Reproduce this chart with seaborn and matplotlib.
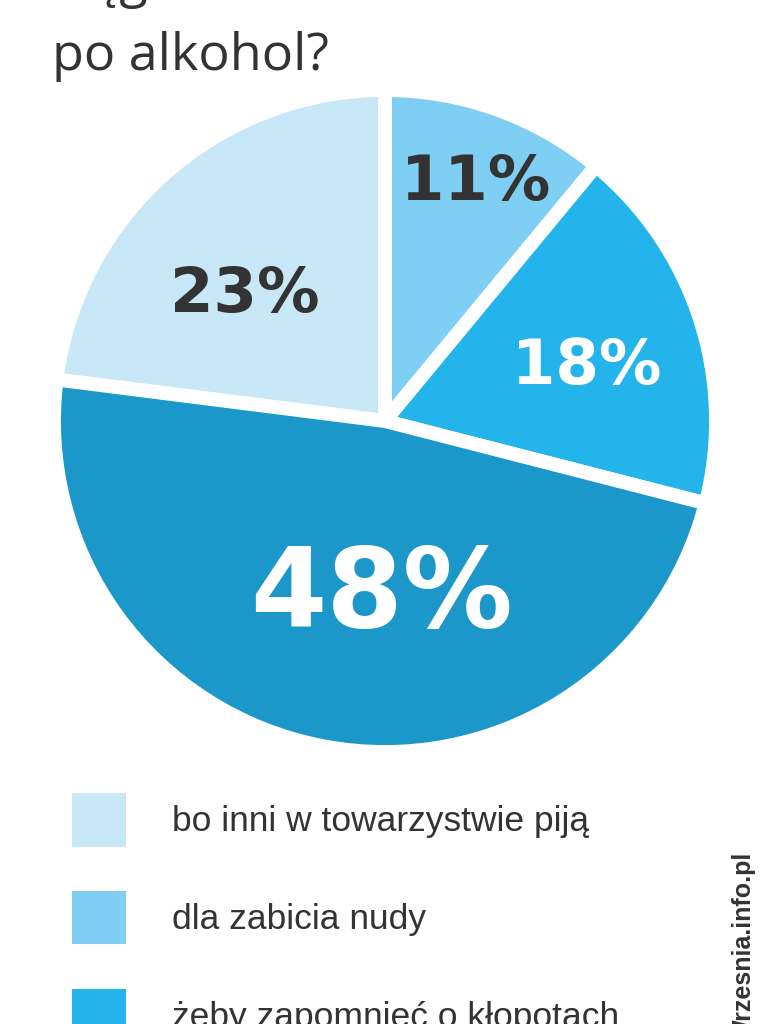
import matplotlib
matplotlib.use("Agg")
import matplotlib.pyplot as plt
import seaborn as sns
import numpy as np
from matplotlib.patches import Patch

# data (legend order)
categories = [
    "bo inni w towarzystwie piją",
    "dla zabicia nudy",
    "żeby zapomnieć o kłopotach",
    "z ciekawości",
]
values = [23, 11, 18, 48]
pct_labels = ["23%", "11%", "18%", "48%"]
colors = ["#c8e8f8", "#7ecff3", "#22b4ea", "#1b97c9"]
label_colors = ["#333333", "#333333", "white", "white"]

sns.set_theme(style="white")
plt.rcParams["font.family"] = ["Open Sans", "DejaVu Sans"]
palette = sns.color_palette(colors)

W, H = 768, 1024
fig = plt.figure(figsize=(W / 100, H / 100), dpi=100)
fig.patch.set_facecolor("white")
ax = fig.add_axes([0, 0, 1, 1])

# pie, clockwise, 11% starts at 12 o'clock
start = 90 + values[0] / sum(values) * 360
wedges, _ = ax.pie(
    values,
    colors=palette,
    startangle=start,
    counterclock=False,
    center=(385, H - 421),
    radius=331,
    explode=[0, 0, 0, 0.03],
    wedgeprops=dict(edgecolor="white", linewidth=10),
    frame=True,
)
ax.set_xlim(0, W)
ax.set_ylim(0, H)
ax.set_aspect("equal")
ax.axis("off")

# percentage labels
label_dist = [0.57, 0.77, 0.63, 0.53]
label_turn = [6.8, -1.0, -3.1, 9.5]
label_size = [45, 45, 45, 79]
for w, txt, col, d, t, s in zip(wedges, pct_labels, label_colors,
                                label_dist, label_turn, label_size):
    ang = np.deg2rad((w.theta1 + w.theta2) / 2 + t)
    cx, cy = w.center
    x = cx + d * w.r * np.cos(ang)
    y = cy + d * w.r * np.sin(ang)
    ax.text(x, y, txt, ha="center", va="center", color=col,
            fontsize=s, fontweight="bold", family=["DejaVu Sans"])

# title (first line cut by the top edge)
fig.text(52 / W, 1 + 3 / H, "sięgasz", fontsize=37.5, color="#333333",
         ha="left", va="baseline")
fig.text(52 / W, 1 - 70 / H, "po alkohol?", fontsize=37.5, color="#333333",
         ha="left", va="baseline")

# legend
handles = [Patch(facecolor=c, edgecolor="none") for c in palette]
leg = fig.legend(
    handles, categories,
    loc="upper left", bbox_to_anchor=(72 / W, 1 - 793 / H),
    frameon=False, borderpad=0, borderaxespad=0,
    handlelength=1.53, handleheight=1.95, labelspacing=1.25,
    handletextpad=1.28,
    prop={"family": ["Liberation Sans", "DejaVu Sans"], "size": 25.5},
)
for t in leg.get_texts():
    t.set_color("#333333")

# source, vertical
fig.text(744 / W, 1 - 852 / H, "Wrzesnia.info.pl", rotation=90,
         ha="center", va="top", fontsize=18, fontweight="bold",
         color="#333333", family=["Liberation Sans", "DejaVu Sans"])

fig.savefig("out.png", dpi=100, facecolor="white")
